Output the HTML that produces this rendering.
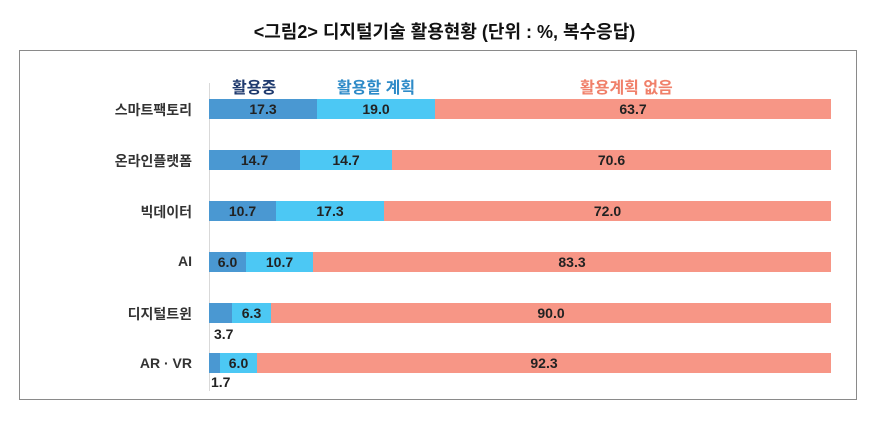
<!DOCTYPE html>
<html><head><meta charset="utf-8"><style>
body{margin:0;width:889px;height:432px;background:#fff;position:relative;font-family:"Liberation Sans","Noto Sans CJK KR",sans-serif;overflow:hidden}
.t{position:absolute;white-space:nowrap}
.box{position:absolute;left:19px;top:50px;width:838px;height:350px;border:1px solid #8a8a8a;box-sizing:border-box}
.axis{position:absolute;left:209px;top:83px;width:1px;height:308px;background:#d9d9d9}
.bar{position:absolute;height:20px;font-size:14px;font-weight:bold;color:#222;text-align:center;line-height:20px;overflow:visible}
.a{background:#4a98d2}.b{background:#4cc8f4}.c{background:#f79686}
.lab{position:absolute;right:697px;font-size:14px;font-weight:bold;color:#333;text-align:right}
</style></head><body>
<div class="t" style="left:0;width:889px;text-align:center;top:18px;font-size:18px;font-weight:bold;color:#111">&lt;그림2&gt; 디지털기술 활용현황 (단위 : %, 복수응답)</div>
<div class="box"></div>
<div class="axis"></div>
<div class="t" style="left:232px;top:74px;font-size:16px;font-weight:bold;color:#1f3a6e">활용중</div>
<div class="t" style="left:337px;top:74px;font-size:16px;font-weight:bold;color:#2e8bc8">활용할 계획</div>
<div class="t" style="left:580px;top:74px;font-size:16px;font-weight:bold;color:#f0806a">활용계획 없음</div>

<div class="lab" style="top:100px">스마트팩토리</div>
<div class="bar a" style="left:209px;top:99px;width:108px">17.3</div>
<div class="bar b" style="left:317px;top:99px;width:118px">19.0</div>
<div class="bar c" style="left:435px;top:99px;width:396px">63.7</div>

<div class="lab" style="top:151px">온라인플랫폼</div>
<div class="bar a" style="left:209px;top:150px;width:91px">14.7</div>
<div class="bar b" style="left:300px;top:150px;width:92px">14.7</div>
<div class="bar c" style="left:392px;top:150px;width:439px">70.6</div>

<div class="lab" style="top:202px">빅데이터</div>
<div class="bar a" style="left:209px;top:201px;width:67px">10.7</div>
<div class="bar b" style="left:276px;top:201px;width:108px">17.3</div>
<div class="bar c" style="left:384px;top:201px;width:447px">72.0</div>

<div class="lab" style="top:253px">AI</div>
<div class="bar a" style="left:209px;top:252px;width:37px">6.0</div>
<div class="bar b" style="left:246px;top:252px;width:67px">10.7</div>
<div class="bar c" style="left:313px;top:252px;width:518px">83.3</div>

<div class="lab" style="top:304px">디지털트윈</div>
<div class="bar a" style="left:209px;top:303px;width:23px"></div>
<div class="bar b" style="left:232px;top:303px;width:39px">6.3</div>
<div class="bar c" style="left:271px;top:303px;width:560px">90.0</div>
<div class="t" style="left:214px;top:326px;font-size:14px;font-weight:bold;color:#222">3.7</div>

<div class="lab" style="top:355px">AR · VR</div>
<div class="bar a" style="left:209px;top:353px;width:11px"></div>
<div class="bar b" style="left:220px;top:353px;width:37px">6.0</div>
<div class="bar c" style="left:257px;top:353px;width:574px">92.3</div>
<div class="t" style="left:211px;top:374px;font-size:14px;font-weight:bold;color:#222">1.7</div>
</body></html>
